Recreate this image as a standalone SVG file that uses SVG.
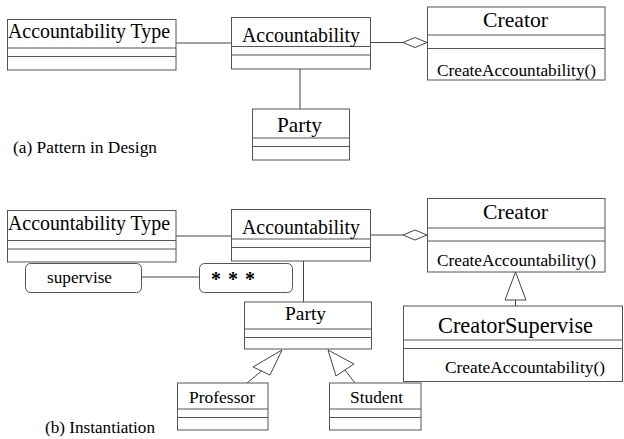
<svg xmlns="http://www.w3.org/2000/svg" width="624" height="439" viewBox="0 0 624 439">
  <style>
    .box { fill: #ffffff; stroke: #555555; stroke-width: 1; }
    .div { stroke: #555555; stroke-width: 1; fill: none; }
    .edge { stroke: #444444; stroke-width: 1; fill: none; }
    .head { fill: #ffffff; stroke: #444444; stroke-width: 1; }
    text { fill: #000000; font-family: "Liberation Serif", "Times New Roman", Times, Tinos, "Nimbus Roman", "Nimbus Roman No9 L", FreeSerif, "DejaVu Serif", "Noto Serif", Georgia, serif; }
    .t20 { font-size: 20px; }
    .t21 { font-size: 21.5px; }
    .t17 { font-size: 17.2px; }
  </style>
  <rect width="624" height="439" fill="#ffffff"/>

  <!-- (a) Pattern in Design -->
  <g id="connectors-a">
    <line class="edge" x1="176" y1="43" x2="231" y2="43"/>
    <line class="edge" x1="300" y1="69" x2="300" y2="109"/>
    <line class="edge" x1="371" y1="42.5" x2="403" y2="42.5"/>
    <polygon class="head" points="403,42.5 415,37.5 427,42.5 415,47.5"/>
  </g>

  <g id="a-accountability-type">
    <rect class="box" x="7.5" y="19.5" width="168.5" height="50.5"/>
    <line class="div" x1="7.5" y1="48" x2="176" y2="48"/>
    <line class="div" x1="7.5" y1="56.5" x2="176" y2="56.5"/>
    <text class="t20" x="8" y="38" textLength="162" lengthAdjust="spacingAndGlyphs">Accountability Type</text>
  </g>

  <g id="a-accountability">
    <rect class="box" x="231.5" y="17.5" width="139" height="51.5"/>
    <line class="div" x1="231.5" y1="46.5" x2="370.5" y2="46.5"/>
    <line class="div" x1="231.5" y1="55" x2="370.5" y2="55"/>
    <text class="t20" x="242" y="42" textLength="118" lengthAdjust="spacingAndGlyphs">Accountability</text>
  </g>

  <g id="a-creator">
    <rect class="box" x="427.5" y="7" width="177.5" height="73"/>
    <line class="div" x1="427.5" y1="35" x2="605" y2="35"/>
    <line class="div" x1="427.5" y1="48.5" x2="605" y2="48.5"/>
    <text class="t21" x="483" y="27" textLength="65" lengthAdjust="spacingAndGlyphs">Creator</text>
    <text class="t17" x="437" y="76" textLength="159" lengthAdjust="spacingAndGlyphs">CreateAccountability()</text>
  </g>

  <g id="a-party">
    <rect class="box" x="252.5" y="109" width="97" height="51"/>
    <line class="div" x1="252.5" y1="138" x2="349.5" y2="138" stroke-width="1.5"/>
    <line class="div" x1="252.5" y1="146.5" x2="349.5" y2="146.5"/>
    <text class="t21" x="277" y="132" textLength="45" lengthAdjust="spacingAndGlyphs">Party</text>
  </g>

  <text id="caption-a" class="t17" x="13" y="153" textLength="144" lengthAdjust="spacingAndGlyphs">(a) Pattern in Design</text>

  <!-- (b) Instantiation -->
  <g id="connectors-b">
    <line class="edge" x1="176" y1="236" x2="231" y2="236"/>
    <line class="edge" x1="141" y1="277" x2="199" y2="277"/>
    <line class="edge" x1="303.5" y1="261" x2="303.5" y2="302"/>
    <line class="edge" x1="371" y1="235" x2="403" y2="235"/>
    <polygon class="head" points="403,235 415,230 427,235 415,240"/>
    <!-- Creator <- CreatorSupervise -->
    <line class="edge" x1="515.5" y1="300" x2="515.5" y2="306"/>
    <polygon class="head" points="515.5,272 505,300 526,300"/>
    <!-- Party <- Professor -->
    <line class="edge" x1="261.5" y1="371" x2="247" y2="383"/>
    <polygon class="head" points="282,350 253,367 270,375"/>
    <!-- Party <- Student -->
    <line class="edge" x1="345" y1="370" x2="355" y2="383"/>
    <polygon class="head" points="328,350 336,376 354,364"/>
  </g>

  <g id="b-accountability-type">
    <rect class="box" x="7.5" y="210.5" width="168.5" height="51.5"/>
    <line class="div" x1="7.5" y1="240.5" x2="176" y2="240.5"/>
    <line class="div" x1="7.5" y1="249" x2="176" y2="249"/>
    <text class="t20" x="8" y="230" textLength="162" lengthAdjust="spacingAndGlyphs">Accountability Type</text>
  </g>

  <g id="b-accountability">
    <rect class="box" x="231.5" y="209.5" width="139" height="51.5"/>
    <line class="div" x1="231.5" y1="239" x2="370.5" y2="239"/>
    <line class="div" x1="231.5" y1="247.5" x2="370.5" y2="247.5"/>
    <text class="t20" x="242" y="234" textLength="118" lengthAdjust="spacingAndGlyphs">Accountability</text>
  </g>

  <g id="b-supervise">
    <rect class="box" x="25.5" y="263.5" width="116" height="29" rx="5" ry="5"/>
    <text class="t17" x="47" y="283" textLength="65" lengthAdjust="spacingAndGlyphs">supervise</text>
  </g>

  <g id="b-instance">
    <rect class="box" x="199.5" y="263.5" width="93" height="29" rx="5" ry="5"/>
    <text x="211" y="286" font-size="20" font-weight="bold" textLength="44" lengthAdjust="spacing">* * *</text>
  </g>

  <g id="b-creator">
    <rect class="box" x="427.5" y="198.5" width="177.5" height="73.5"/>
    <line class="div" x1="427.5" y1="228" x2="605" y2="228"/>
    <line class="div" x1="427.5" y1="241" x2="605" y2="241"/>
    <text class="t21" x="483" y="219" textLength="65" lengthAdjust="spacingAndGlyphs">Creator</text>
    <text class="t17" x="437" y="266" textLength="159" lengthAdjust="spacingAndGlyphs">CreateAccountability()</text>
  </g>

  <g id="b-creator-supervise">
    <rect class="box" x="403.5" y="306" width="219" height="75.5"/>
    <line class="div" x1="403.5" y1="340" x2="622.5" y2="340"/>
    <line class="div" x1="403.5" y1="348.5" x2="622.5" y2="348.5"/>
    <text x="438" y="333" font-size="22.3" textLength="155" lengthAdjust="spacingAndGlyphs">CreatorSupervise</text>
    <text class="t17" x="445" y="373" textLength="160" lengthAdjust="spacingAndGlyphs">CreateAccountability()</text>
  </g>

  <g id="b-party">
    <rect class="box" x="244.5" y="302" width="127" height="47"/>
    <line class="div" x1="244.5" y1="329" x2="371.5" y2="329"/>
    <line class="div" x1="244.5" y1="337.5" x2="371.5" y2="337.5"/>
    <text x="285" y="320" font-size="19.5" textLength="41" lengthAdjust="spacingAndGlyphs">Party</text>
  </g>

  <g id="b-professor">
    <rect class="box" x="177.5" y="383" width="90.5" height="47"/>
    <line class="div" x1="177.5" y1="409" x2="268" y2="409"/>
    <line class="div" x1="177.5" y1="417.5" x2="268" y2="417.5"/>
    <text class="t17" x="189" y="403" textLength="66" lengthAdjust="spacingAndGlyphs">Professor</text>
  </g>

  <g id="b-student">
    <rect class="box" x="329.5" y="383" width="91.5" height="47"/>
    <line class="div" x1="329.5" y1="409" x2="421" y2="409"/>
    <line class="div" x1="329.5" y1="417.5" x2="421" y2="417.5"/>
    <text class="t17" x="350" y="403" textLength="53" lengthAdjust="spacingAndGlyphs">Student</text>
  </g>

  <text id="caption-b" class="t17" x="45" y="433" textLength="110" lengthAdjust="spacingAndGlyphs">(b) Instantiation</text>
</svg>
